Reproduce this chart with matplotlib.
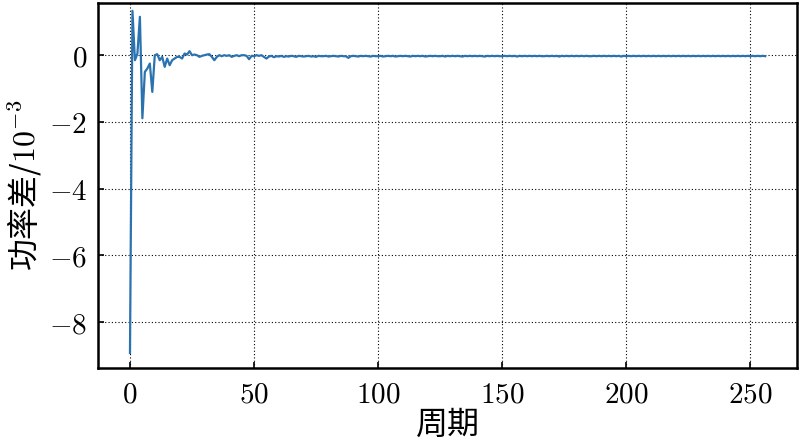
import numpy as np
import matplotlib
matplotlib.use("Agg")
import matplotlib.pyplot as plt
from matplotlib.ticker import FuncFormatter

plt.rcParams['font.family'] = ['Noto Sans CJK SC', 'DejaVu Sans']
plt.rcParams['mathtext.fontset'] = 'cm'

# power difference per period, in units of 1e-3
diff_head = [-8.92, 1.33, -0.15, 0.05, 1.15, -1.89, -0.50, -0.40, -0.25, -1.10,
             0.00, 0.03, -0.15, -0.05, -0.35, -0.10, -0.30, -0.15, -0.10, -0.05,
             -0.05, -0.10, 0.05, 0.02, 0.12, 0.00, 0.02, 0.00, -0.05, -0.02,
             0.00, 0.02, 0.03, -0.05, -0.15, -0.05, 0.00, -0.03, 0.00, -0.02,
             0.00, -0.05, -0.02, 0.00, -0.03, 0.00, 0.00, -0.02, -0.12, -0.02,
             -0.03, 0.00, -0.02, 0.00, -0.05, -0.10, -0.04, -0.02, -0.06, -0.03]
diff_tail = [-0.04, -0.02, -0.05, -0.03, -0.04, -0.02, -0.03, -0.05, -0.02, -0.03,
             -0.04, -0.03, -0.02, -0.04, -0.03, -0.05, -0.02, -0.03, -0.03, -0.02,
             -0.04, -0.03, -0.02, -0.03, -0.04, -0.02, -0.03, -0.03, -0.08, -0.03,
             -0.02, -0.03, -0.04, -0.02, -0.03, -0.02, -0.03, -0.04, -0.02, -0.03,
             -0.03, -0.02, -0.04, -0.03, -0.02, -0.03, -0.02, -0.04, -0.03, -0.02,
             -0.03, -0.02, -0.03, -0.04, -0.02, -0.03, -0.02, -0.03, -0.02, -0.04,
             -0.03, -0.02, -0.03, -0.02, -0.03, -0.03, -0.02, -0.04, -0.02, -0.03,
             -0.02, -0.03, -0.02, -0.03, -0.04, -0.02, -0.03, -0.02, -0.03, -0.02,
             -0.03, -0.02, -0.03, -0.04, -0.02, -0.03, -0.02, -0.03, -0.02, -0.03,
             -0.03, -0.02, -0.03, -0.02, -0.03, -0.02, -0.04, -0.02, -0.03, -0.02,
             -0.03, -0.02, -0.03, -0.02, -0.03, -0.02, -0.03, -0.03, -0.02, -0.03,
             -0.02, -0.03, -0.02, -0.04, -0.02, -0.03, -0.02, -0.03, -0.02, -0.03,
             -0.02, -0.03, -0.02, -0.03, -0.02, -0.03, -0.03, -0.02, -0.03, -0.02,
             -0.03, -0.02, -0.03, -0.02, -0.03, -0.02, -0.03, -0.02, -0.04, -0.02,
             -0.03, -0.02, -0.03, -0.02, -0.03, -0.02, -0.03, -0.02, -0.03, -0.02,
             -0.03, -0.02, -0.03, -0.02, -0.03, -0.02, -0.03, -0.02, -0.03, -0.02,
             -0.03, -0.02, -0.03, -0.02, -0.03, -0.02, -0.03, -0.02, -0.03, -0.02,
             -0.03, -0.02, -0.03, -0.02, -0.03, -0.02, -0.03, -0.02, -0.03, -0.02,
             -0.03, -0.02, -0.03, -0.02, -0.03, -0.02, -0.03, -0.02, -0.03, -0.02,
             -0.03, -0.02, -0.03, -0.02, -0.03, -0.02, -0.03]
power_diff = diff_head + diff_tail
periods = list(range(len(power_diff)))

xticks = [0, 50, 100, 150, 200, 250]
yticks = [-8, -6, -4, -2, 0]

fig = plt.figure(figsize=(8.05, 4.46), dpi=100)
ax = fig.add_axes([0.122, 0.175, 0.868, 0.818])
ax.plot(periods, power_diff, color='#2b73b0', lw=1.6)

ax.set_ylim(-9.37, 1.56)
ax.set_xticks(xticks)
ax.set_yticks(yticks)
fmt = FuncFormatter(lambda v, p: r'$%d$' % v)
ax.xaxis.set_major_formatter(fmt)
ax.yaxis.set_major_formatter(fmt)
ax.tick_params(direction='in', length=4, width=1.2, labelsize=21, pad=8)
ax.grid(True, linestyle=(0, (1, 2)), color='black', linewidth=0.8)
for s in ax.spines.values():
    s.set_linewidth(1.8)

ax.set_xlabel('周期', fontsize=23, labelpad=0)
ax.set_ylabel(r'功率差/$10^{-3}$', fontsize=23, labelpad=4)

fig.savefig('out.png', dpi=100)
